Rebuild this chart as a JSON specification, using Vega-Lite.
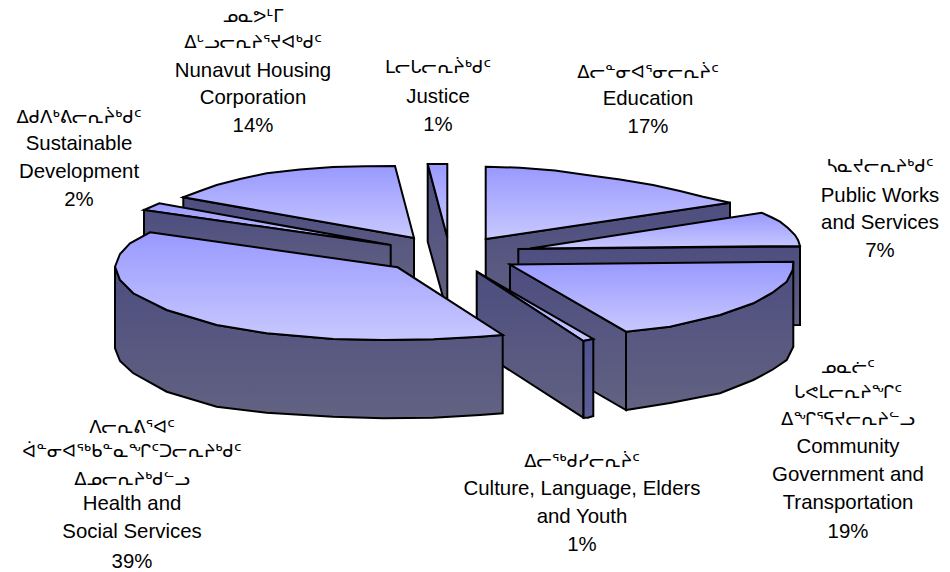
{"$schema":"https://vega.github.io/schema/vega-lite/v6.json","width":950,"height":572,"padding":0,"autosize":"none","background":"white","projection":{"type":"identity","scale":1,"translate":[0,0]},
"datasets":{"shapes":[
{"type":"Feature","properties":{"slice":"Justice","share":1,"face":"wall","z":1},"geometry":{"type":"Polygon","coordinates":[[[427.7,164],[447.3,237.3],[447.3,315],[443,297],[427.7,241.7],[427.7,164]]]}},
{"type":"Feature","properties":{"slice":"Nunavut Housing Corporation","share":14,"face":"wall","z":1},"geometry":{"type":"Polygon","coordinates":[[[183.3,197.3],[414,238],[414,285],[183.3,240],[183.3,197.3]]]}},
{"type":"Feature","properties":{"slice":"Justice","share":1,"face":"top","z":2},"geometry":{"type":"Polygon","coordinates":[[[427.7,164],[447.3,164],[447.3,237.3],[427.7,164]]]}},
{"type":"Feature","properties":{"slice":"Nunavut Housing Corporation","share":14,"face":"top","z":2},"geometry":{"type":"Polygon","coordinates":[[[183.3,197.3],[200,191],[216.7,185],[240,179],[266.7,173.3],[300,169.5],[333,167],[365,166.3],[395,166],[414,238],[183.3,197.3]]]}},
{"type":"Feature","properties":{"slice":"Sustainable Development","share":2,"face":"top","z":2},"geometry":{"type":"Polygon","coordinates":[[[144,210],[159.3,203.3],[390.7,245],[144,210]]]}},
{"type":"Feature","properties":{"slice":"Sustainable Development","share":2,"face":"wall","z":3},"geometry":{"type":"Polygon","coordinates":[[[144,210],[390.7,245],[390.7,282],[144,247],[144,210]]]}},
{"type":"Feature","properties":{"slice":"Education","share":17,"face":"wall","z":3},"geometry":{"type":"Polygon","coordinates":[[[485.7,239],[730,202.7],[730,281],[485.7,317],[485.7,239]]]}},
{"type":"Feature","properties":{"slice":"Education","share":17,"face":"top","z":4},"geometry":{"type":"Polygon","coordinates":[[[485.7,166.7],[520,167.7],[555,170.5],[586.7,175],[620,179.5],[653,185],[680,191],[703,196.7],[730,202.7],[485.7,239],[485.7,166.7]]]}},
{"type":"Feature","properties":{"slice":"Public Works and Services","share":7,"face":"wall","z":5},"geometry":{"type":"Polygon","coordinates":[[[518.3,249],[800,246.5],[800,325],[518.3,327],[518.3,249]]]}},
{"type":"Feature","properties":{"slice":"Public Works and Services","share":7,"face":"top","z":6},"geometry":{"type":"Polygon","coordinates":[[[530,248.5],[761.7,212.7],[772,217.5],[780,221.7],[788,228],[795,235],[798,240],[800,246],[530,248.5]]]}},
{"type":"Feature","properties":{"slice":"Community Government and Transportation","share":19,"face":"wall","z":7},"geometry":{"type":"Polygon","coordinates":[[[510,264.5],[626,331.7],[626,410],[510,343],[510,264.5]]]}},
{"type":"Feature","properties":{"slice":"Community Government and Transportation","share":19,"face":"wall","z":7},"geometry":{"type":"Polygon","coordinates":[[[626,331.7],[670,326.7],[720,315],[753.3,303.3],[772,293],[786.7,281.7],[792.7,270],[793.3,261.7],[793.3,346.7],[786.7,360],[772,370],[753.3,380],[720,393.3],[670,403],[626,410],[626,331.7]]]}},
{"type":"Feature","properties":{"slice":"Community Government and Transportation","share":19,"face":"top","z":8},"geometry":{"type":"Polygon","coordinates":[[[510,264.5],[793.3,261.7],[792.7,270],[786.7,281.7],[772,293],[753.3,303.3],[720,315],[670,326.7],[626,331.7],[510,264.5]]]}},
{"type":"Feature","properties":{"slice":"Culture, Language, Elders and Youth","share":1,"face":"top","z":8},"geometry":{"type":"Polygon","coordinates":[[[476.7,271.7],[593.3,339],[583.3,341],[476.7,271.7]]]}},
{"type":"Feature","properties":{"slice":"Culture, Language, Elders and Youth","share":1,"face":"edge","z":9},"geometry":{"type":"Polygon","coordinates":[[[583.3,341],[593.3,339],[593.3,416],[588,417.7],[583.3,417.7],[583.3,341]]]}},
{"type":"Feature","properties":{"slice":"Culture, Language, Elders and Youth","share":1,"face":"wall","z":10},"geometry":{"type":"Polygon","coordinates":[[[476.7,271.7],[583.3,341],[583.3,417.7],[476.7,349],[476.7,271.7]]]}},
{"type":"Feature","properties":{"slice":"Health and Social Services","share":39,"face":"wall","z":10},"geometry":{"type":"Polygon","coordinates":[[[115,266.7],[120,280],[133.3,293.3],[166.7,310],[216.7,325],[266.7,333.3],[333.3,339],[383.3,340],[433.3,339.3],[480,336.7],[502.7,335],[502.7,413.3],[480,415],[433,417.7],[383,418.3],[333,416.7],[266.7,412.7],[216.7,406.7],[166.7,391.7],[133,373],[120,361],[115,348.3],[115,266.7]]]}},
{"type":"Feature","properties":{"slice":"Health and Social Services","share":39,"face":"top","z":11},"geometry":{"type":"Polygon","coordinates":[[[150,232.3],[397.7,267.3],[502.7,335],[480,336.7],[433.3,339.3],[383.3,340],[333.3,339],[266.7,333.3],[216.7,325],[166.7,310],[133.3,293.3],[120,280],[115,266.7],[120,254],[130,243.3],[150,232.3]]]}}
],
"labels":[
{"t":"ᓄᓇᕗᒻᒥ","lon":253,"lat":17,"s":"syl"},{"t":"ᐃᒡᓗᓕᕆᔨᕐᔪᐊᒃᑯᑦ","lon":253,"lat":43,"s":"syl"},{"t":"Nunavut Housing","lon":253,"lat":71,"s":"lat"},{"t":"Corporation","lon":253,"lat":98,"s":"lat"},{"t":"14%","lon":253,"lat":126,"s":"lat"},
{"t":"ᒪᓕᒐᓕᕆᔩᒃᑯᑦ","lon":438,"lat":68,"s":"syl"},{"t":"Justice","lon":438,"lat":97,"s":"lat"},{"t":"1%","lon":438,"lat":125,"s":"lat"},
{"t":"ᐃᓕᓐᓂᐊᕐᓂᓕᕆᔩᑦ","lon":648,"lat":73,"s":"syl"},{"t":"Education","lon":648,"lat":99,"s":"lat"},{"t":"17%","lon":648,"lat":127,"s":"lat"},
{"t":"ᓴᓇᔪᓕᕆᔨᒃᑯᑦ","lon":880,"lat":167,"s":"syl"},{"t":"Public Works","lon":880,"lat":196,"s":"lat"},{"t":"and Services","lon":880,"lat":223,"s":"lat"},{"t":"7%","lon":880,"lat":251,"s":"lat"},
{"t":"ᐃᑯᐱᒃᕕᓕᕆᔩᒃᑯᑦ","lon":79,"lat":118,"s":"syl"},{"t":"Sustainable","lon":79,"lat":144,"s":"lat"},{"t":"Development","lon":79,"lat":172,"s":"lat"},{"t":"2%","lon":79,"lat":200,"s":"lat"},
{"t":"ᐱᓕᕆᕕᕐᐊᑦ","lon":132,"lat":428,"s":"syl"},{"t":"ᐋᓐᓂᐊᖅᑲᓐᓇᖏᑦᑐᓕᕆᔨᒃᑯᑦ","lon":132,"lat":452,"s":"syl"},{"t":"ᐃᓄᓕᕆᔨᒃᑯᓪᓗ","lon":132,"lat":480,"s":"syl"},{"t":"Health and","lon":132,"lat":504,"s":"lat"},{"t":"Social Services","lon":132,"lat":532,"s":"lat"},{"t":"39%","lon":132,"lat":562,"s":"lat"},
{"t":"ᐃᓕᖅᑯᓯᓕᕆᔩᑦ","lon":582,"lat":462,"s":"syl"},{"t":"Culture, Language, Elders","lon":582,"lat":489,"s":"lat"},{"t":"and Youth","lon":582,"lat":517,"s":"lat"},{"t":"1%","lon":582,"lat":545,"s":"lat"},
{"t":"ᓄᓇᓖᑦ","lon":848,"lat":368,"s":"syl"},{"t":"ᒐᕙᒪᓕᕆᔨᖏᑦ","lon":848,"lat":393,"s":"syl"},{"t":"ᐃᖏᕐᕋᔪᓕᕆᔨᓪᓗ","lon":848,"lat":420,"s":"syl"},{"t":"Community","lon":848,"lat":447,"s":"lat"},{"t":"Government and","lon":848,"lat":475,"s":"lat"},{"t":"Transportation","lon":848,"lat":503,"s":"lat"},{"t":"19%","lon":848,"lat":532,"s":"lat"}
]},
"layer":[
{"data":{"name":"shapes"},"transform":[{"filter":"datum.properties.z===1"}],"mark":{"type":"geoshape","stroke":"black","strokeWidth":2,"fill":{"gradient":"linear","x1":0,"y1":0,"x2":0,"y2":1,"stops":[{"offset":0,"color":"#4d4d80"},{"offset":1,"color":"#626282"}]}}},
{"data":{"name":"shapes"},"transform":[{"filter":"datum.properties.z===2"}],"mark":{"type":"geoshape","stroke":"black","strokeWidth":2,"fill":{"gradient":"linear","x1":0,"y1":0,"x2":0,"y2":1,"stops":[{"offset":0,"color":"#9999ff"},{"offset":1,"color":"#c8c8ff"}]}}},
{"data":{"name":"shapes"},"transform":[{"filter":"datum.properties.z===3"}],"mark":{"type":"geoshape","stroke":"black","strokeWidth":2,"fill":{"gradient":"linear","x1":0,"y1":0,"x2":0,"y2":1,"stops":[{"offset":0,"color":"#4d4d80"},{"offset":1,"color":"#626282"}]}}},
{"data":{"name":"shapes"},"transform":[{"filter":"datum.properties.z===4"}],"mark":{"type":"geoshape","stroke":"black","strokeWidth":2,"fill":{"gradient":"linear","x1":0,"y1":0,"x2":0,"y2":1,"stops":[{"offset":0,"color":"#9999ff"},{"offset":1,"color":"#c8c8ff"}]}}},
{"data":{"name":"shapes"},"transform":[{"filter":"datum.properties.z===5"}],"mark":{"type":"geoshape","stroke":"black","strokeWidth":2,"fill":{"gradient":"linear","x1":0,"y1":0,"x2":0,"y2":1,"stops":[{"offset":0,"color":"#4d4d80"},{"offset":1,"color":"#626282"}]}}},
{"data":{"name":"shapes"},"transform":[{"filter":"datum.properties.z===6"}],"mark":{"type":"geoshape","stroke":"black","strokeWidth":2,"fill":{"gradient":"linear","x1":0,"y1":0,"x2":0,"y2":1,"stops":[{"offset":0,"color":"#9999ff"},{"offset":1,"color":"#c8c8ff"}]}}},
{"data":{"name":"shapes"},"transform":[{"filter":"datum.properties.z===7"}],"mark":{"type":"geoshape","stroke":"black","strokeWidth":2,"fill":{"gradient":"linear","x1":0,"y1":0,"x2":0,"y2":1,"stops":[{"offset":0,"color":"#4d4d80"},{"offset":1,"color":"#626282"}]}}},
{"data":{"name":"shapes"},"transform":[{"filter":"datum.properties.z===8"}],"mark":{"type":"geoshape","stroke":"black","strokeWidth":2,"fill":{"gradient":"linear","x1":0,"y1":0,"x2":0,"y2":1,"stops":[{"offset":0,"color":"#9999ff"},{"offset":1,"color":"#c8c8ff"}]}}},
{"data":{"name":"shapes"},"transform":[{"filter":"datum.properties.z===9"}],"mark":{"type":"geoshape","stroke":"black","strokeWidth":2,"fill":{"gradient":"linear","x1":0,"y1":0,"x2":0,"y2":1,"stops":[{"offset":0,"color":"#50538f"},{"offset":1,"color":"#5c5f96"}]}}},
{"data":{"name":"shapes"},"transform":[{"filter":"datum.properties.z===10"}],"mark":{"type":"geoshape","stroke":"black","strokeWidth":2,"fill":{"gradient":"linear","x1":0,"y1":0,"x2":0,"y2":1,"stops":[{"offset":0,"color":"#4d4d80"},{"offset":1,"color":"#626282"}]}}},
{"data":{"name":"shapes"},"transform":[{"filter":"datum.properties.z===11"}],"mark":{"type":"geoshape","stroke":"black","strokeWidth":2,"fill":{"gradient":"linear","x1":0,"y1":0,"x2":0,"y2":1,"stops":[{"offset":0,"color":"#9999ff"},{"offset":1,"color":"#c8c8ff"}]}}},
{"data":{"name":"labels"},"transform":[{"filter":"datum.s==='lat'"}],"mark":{"type":"text","font":"Liberation Sans","fontSize":20.4,"fill":"black","align":"center","baseline":"middle"},"encoding":{"longitude":{"field":"lon","type":"quantitative"},"latitude":{"field":"lat","type":"quantitative"},"text":{"field":"t","type":"nominal"}}},
{"data":{"name":"labels"},"transform":[{"filter":"datum.s==='syl'"}],"mark":{"type":"text","font":"DejaVu Sans","fontSize":18,"fill":"black","align":"center","baseline":"middle"},"encoding":{"longitude":{"field":"lon","type":"quantitative"},"latitude":{"field":"lat","type":"quantitative"},"text":{"field":"t","type":"nominal"}}}
]}
